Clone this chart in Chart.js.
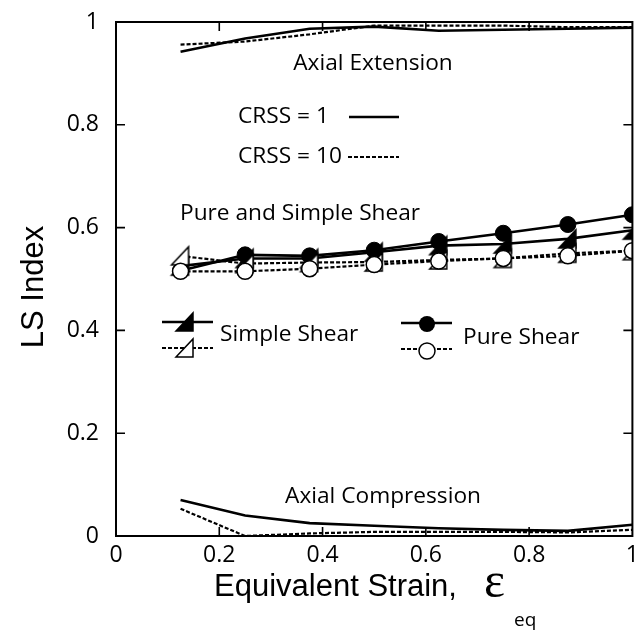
<!DOCTYPE html>
<html>
<head>
<meta charset="utf-8">
<script src="https://cdn.jsdelivr.net/npm/chart.js@4"></script>
<style>
  html, body { margin: 0; padding: 0; background: #fff; overflow: hidden; }
  #wrap { width: 645px; height: 630px; position: relative; }
</style>
</head>
<body>
<div id="wrap"><canvas id="ls-chart"></canvas></div>
<script>
// equivalent strain steps
const strain = [0.125, 0.25, 0.375, 0.5, 0.625, 0.75, 0.875, 1.0];

// axial extension
const extCrss1  = [0.942, 0.968, 0.987, 0.991, 0.983, 0.985, 0.987, 0.989];
const extCrss10 = [0.956, 0.962, 0.976, 0.993, 0.993, 0.993, 0.990, 0.990];

// axial compression
const compCrss1  = [0.070, 0.040, 0.025, 0.020, 0.015, 0.012, 0.010, 0.022];
const compCrss10 = [0.053, 0.000, 0.005, 0.008, 0.008, 0.008, 0.007, 0.012];

// simple shear
const simpleCrss1  = [0.525, 0.540, 0.540, 0.552, 0.565, 0.568, 0.578, 0.595];
const simpleCrss10 = [0.545, 0.530, 0.532, 0.533, 0.537, 0.540, 0.550, 0.555];

// pure shear
const pureCrss1  = [0.516, 0.547, 0.545, 0.556, 0.573, 0.589, 0.606, 0.625];
const pureCrss10 = [0.515, 0.515, 0.520, 0.528, 0.535, 0.540, 0.545, 0.555];

const xTicks = [0, 0.2, 0.4, 0.6, 0.8, 1];
const yTicks = [0, 0.2, 0.4, 0.6, 0.8, 1];
const tickText = ['0', '0.2', '0.4', '0.6', '0.8', '1'];

const FONT = '"Open Sans", "Noto Sans", sans-serif';
const TITLE_FONT = '"Liberation Sans", Arial, sans-serif';

function pts(ys) {
    return strain.map(function (x, i) { return { x: x, y: ys[i] }; });
}

// half triangle marker
function triMarker(filled) {
    const c = document.createElement('canvas');
    c.width = 24; c.height = 24;
    const g = c.getContext('2d');
    g.beginPath();
    g.moveTo(3, 21);
    g.lineTo(20, 3);
    g.lineTo(20, 21);
    g.closePath();
    g.fillStyle = filled ? '#000' : '#fff';
    g.fill();
    g.lineWidth = 1.5;
    g.strokeStyle = '#000';
    g.stroke();
    return c;
}
const triFilled = triMarker(true);
const triOpen = triMarker(false);

function lineSet(ys, dashed, extra) {
    return Object.assign({
        data: pts(ys),
        borderColor: '#000',
        borderWidth: dashed ? 2.2 : 2.6,
        borderDash: dashed ? [4, 2] : [],
        pointRadius: 0,
        fill: false,
        tension: 0
    }, extra || {});
}

const framePlugin = {
    id: 'frame',
    afterDraw: function (chart) {
        const ctx = chart.ctx;
        const a = chart.chartArea;
        const xs = chart.scales.x, ys = chart.scales.y;
        ctx.save();
        ctx.strokeStyle = '#000';
        ctx.lineWidth = 2;
        ctx.strokeRect(a.left, a.top, a.right - a.left, a.bottom - a.top);
        // inward ticks on all sides
        ctx.lineWidth = 1.6;
        xTicks.slice(1, -1).forEach(function (v) {
            const p = xs.getPixelForValue(v);
            ctx.beginPath();
            ctx.moveTo(p, a.bottom); ctx.lineTo(p, a.bottom - 9);
            ctx.moveTo(p, a.top); ctx.lineTo(p, a.top + 9);
            ctx.stroke();
        });
        yTicks.slice(1, -1).forEach(function (v) {
            const p = ys.getPixelForValue(v);
            ctx.beginPath();
            ctx.moveTo(a.left, p); ctx.lineTo(a.left + 9, p);
            ctx.moveTo(a.right, p); ctx.lineTo(a.right - 9, p);
            ctx.stroke();
        });

        // annotations
        ctx.fillStyle = '#000';
        ctx.textBaseline = 'middle';
        ctx.font = '22.7px ' + FONT;
        ctx.textAlign = 'center';
        ctx.fillText('Axial Extension', 373, 64);
        ctx.fillText('Axial Compression', 383, 497);
        ctx.textAlign = 'left';
        ctx.fillText('Pure and Simple Shear', 180, 214);
        ctx.fillText('CRSS = 1', 238, 117);
        ctx.fillText('CRSS = 10', 238, 157);
        ctx.fillText('Simple Shear', 220, 335);
        ctx.fillText('Pure Shear', 463, 338);

        // legend keys
        ctx.lineWidth = 2.6;
        ctx.setLineDash([]);
        ctx.beginPath();
        ctx.moveTo(349, 117); ctx.lineTo(399, 117);
        ctx.moveTo(162, 322); ctx.lineTo(213, 322);
        ctx.moveTo(401, 323); ctx.lineTo(452, 323);
        ctx.stroke();
        ctx.lineWidth = 2.2;
        ctx.setLineDash([4, 2]);
        ctx.beginPath();
        ctx.moveTo(348, 157); ctx.lineTo(399, 157);
        ctx.moveTo(162, 348); ctx.lineTo(213, 348);
        ctx.moveTo(401, 349); ctx.lineTo(452, 349);
        ctx.stroke();
        ctx.setLineDash([]);
        ctx.drawImage(triFilled, 173, 310);
        ctx.drawImage(triOpen, 173, 336);
        ctx.beginPath();
        ctx.arc(427, 324, 8, 0, Math.PI * 2);
        ctx.fillStyle = '#000';
        ctx.fill();
        ctx.beginPath();
        ctx.arc(427, 351, 8, 0, Math.PI * 2);
        ctx.fillStyle = '#fff';
        ctx.fill();
        ctx.lineWidth = 1.5;
        ctx.stroke();

        // axis titles
        ctx.fillStyle = '#000';
        ctx.textBaseline = 'alphabetic';
        ctx.textAlign = 'left';
        ctx.font = '31px ' + TITLE_FONT;
        ctx.fillText('Equivalent Strain,', 214, 596);
        ctx.font = '50px "Liberation Serif", serif';
        ctx.fillText('\u03b5', 484, 597);
        ctx.font = '19px ' + FONT;
        ctx.textBaseline = 'middle';
        ctx.fillText('eq', 514, 621);

        ctx.save();
        ctx.translate(34, 287);
        ctx.rotate(-Math.PI / 2);
        ctx.font = '31px ' + TITLE_FONT;
        ctx.textAlign = 'center';
        ctx.fillText('LS Index', 0, 0);
        ctx.restore();
        ctx.restore();
    }
};

new Chart(document.getElementById('ls-chart').getContext('2d'), {
    type: 'line',
    data: {
        datasets: [
            lineSet(extCrss1, false),
            lineSet(extCrss10, true),
            lineSet(compCrss1, false),
            lineSet(compCrss10, true),
            lineSet(pureCrss10, true, { pointRadius: 8, pointStyle: 'circle', pointBackgroundColor: '#fff', pointBorderColor: '#000', pointBorderWidth: 1.5 }),
            lineSet(simpleCrss10, true, { pointRadius: 10, pointStyle: triOpen }),
            lineSet(pureCrss1, false, { pointRadius: 8, pointStyle: 'circle', pointBackgroundColor: '#000', pointBorderColor: '#000', pointBorderWidth: 1 }),
            lineSet(simpleCrss1, false, { pointRadius: 10, pointStyle: triFilled })
        ]
    },
    options: {
        responsive: true,
        maintainAspectRatio: false,
        animation: false,
        layout: { padding: { top: 22, right: 3, left: 0, bottom: 0 } },
        plugins: { legend: { display: false }, tooltip: { enabled: false } },
        scales: {
            x: {
                type: 'linear', min: 0, max: 1,
                afterBuildTicks: function (s) { s.ticks = xTicks.map(function (v) { return { value: v }; }); },
                afterFit: function (s) { s.height = 94; s.paddingLeft = 0; s.paddingRight = 0; },
                grid: { display: false, drawTicks: false },
                border: { display: false },
                ticks: {
                    color: '#000', padding: 6,
                    font: { family: FONT, size: 23 },
                    maxRotation: 0,
                    callback: function (v) { return tickText[xTicks.indexOf(v)]; }
                }
            },
            y: {
                type: 'linear', min: 0, max: 1,
                afterBuildTicks: function (s) { s.ticks = yTicks.map(function (v) { return { value: v }; }); },
                afterFit: function (s) { s.width = 116; s.paddingTop = 0; s.paddingBottom = 0; },
                grid: { display: false, drawTicks: false },
                border: { display: false },
                ticks: {
                    color: '#000', padding: 17,
                    font: { family: FONT, size: 23 },
                    callback: function (v) { return tickText[yTicks.indexOf(v)]; }
                }
            }
        }
    },
    plugins: [framePlugin]
});
</script>
</body>
</html>
